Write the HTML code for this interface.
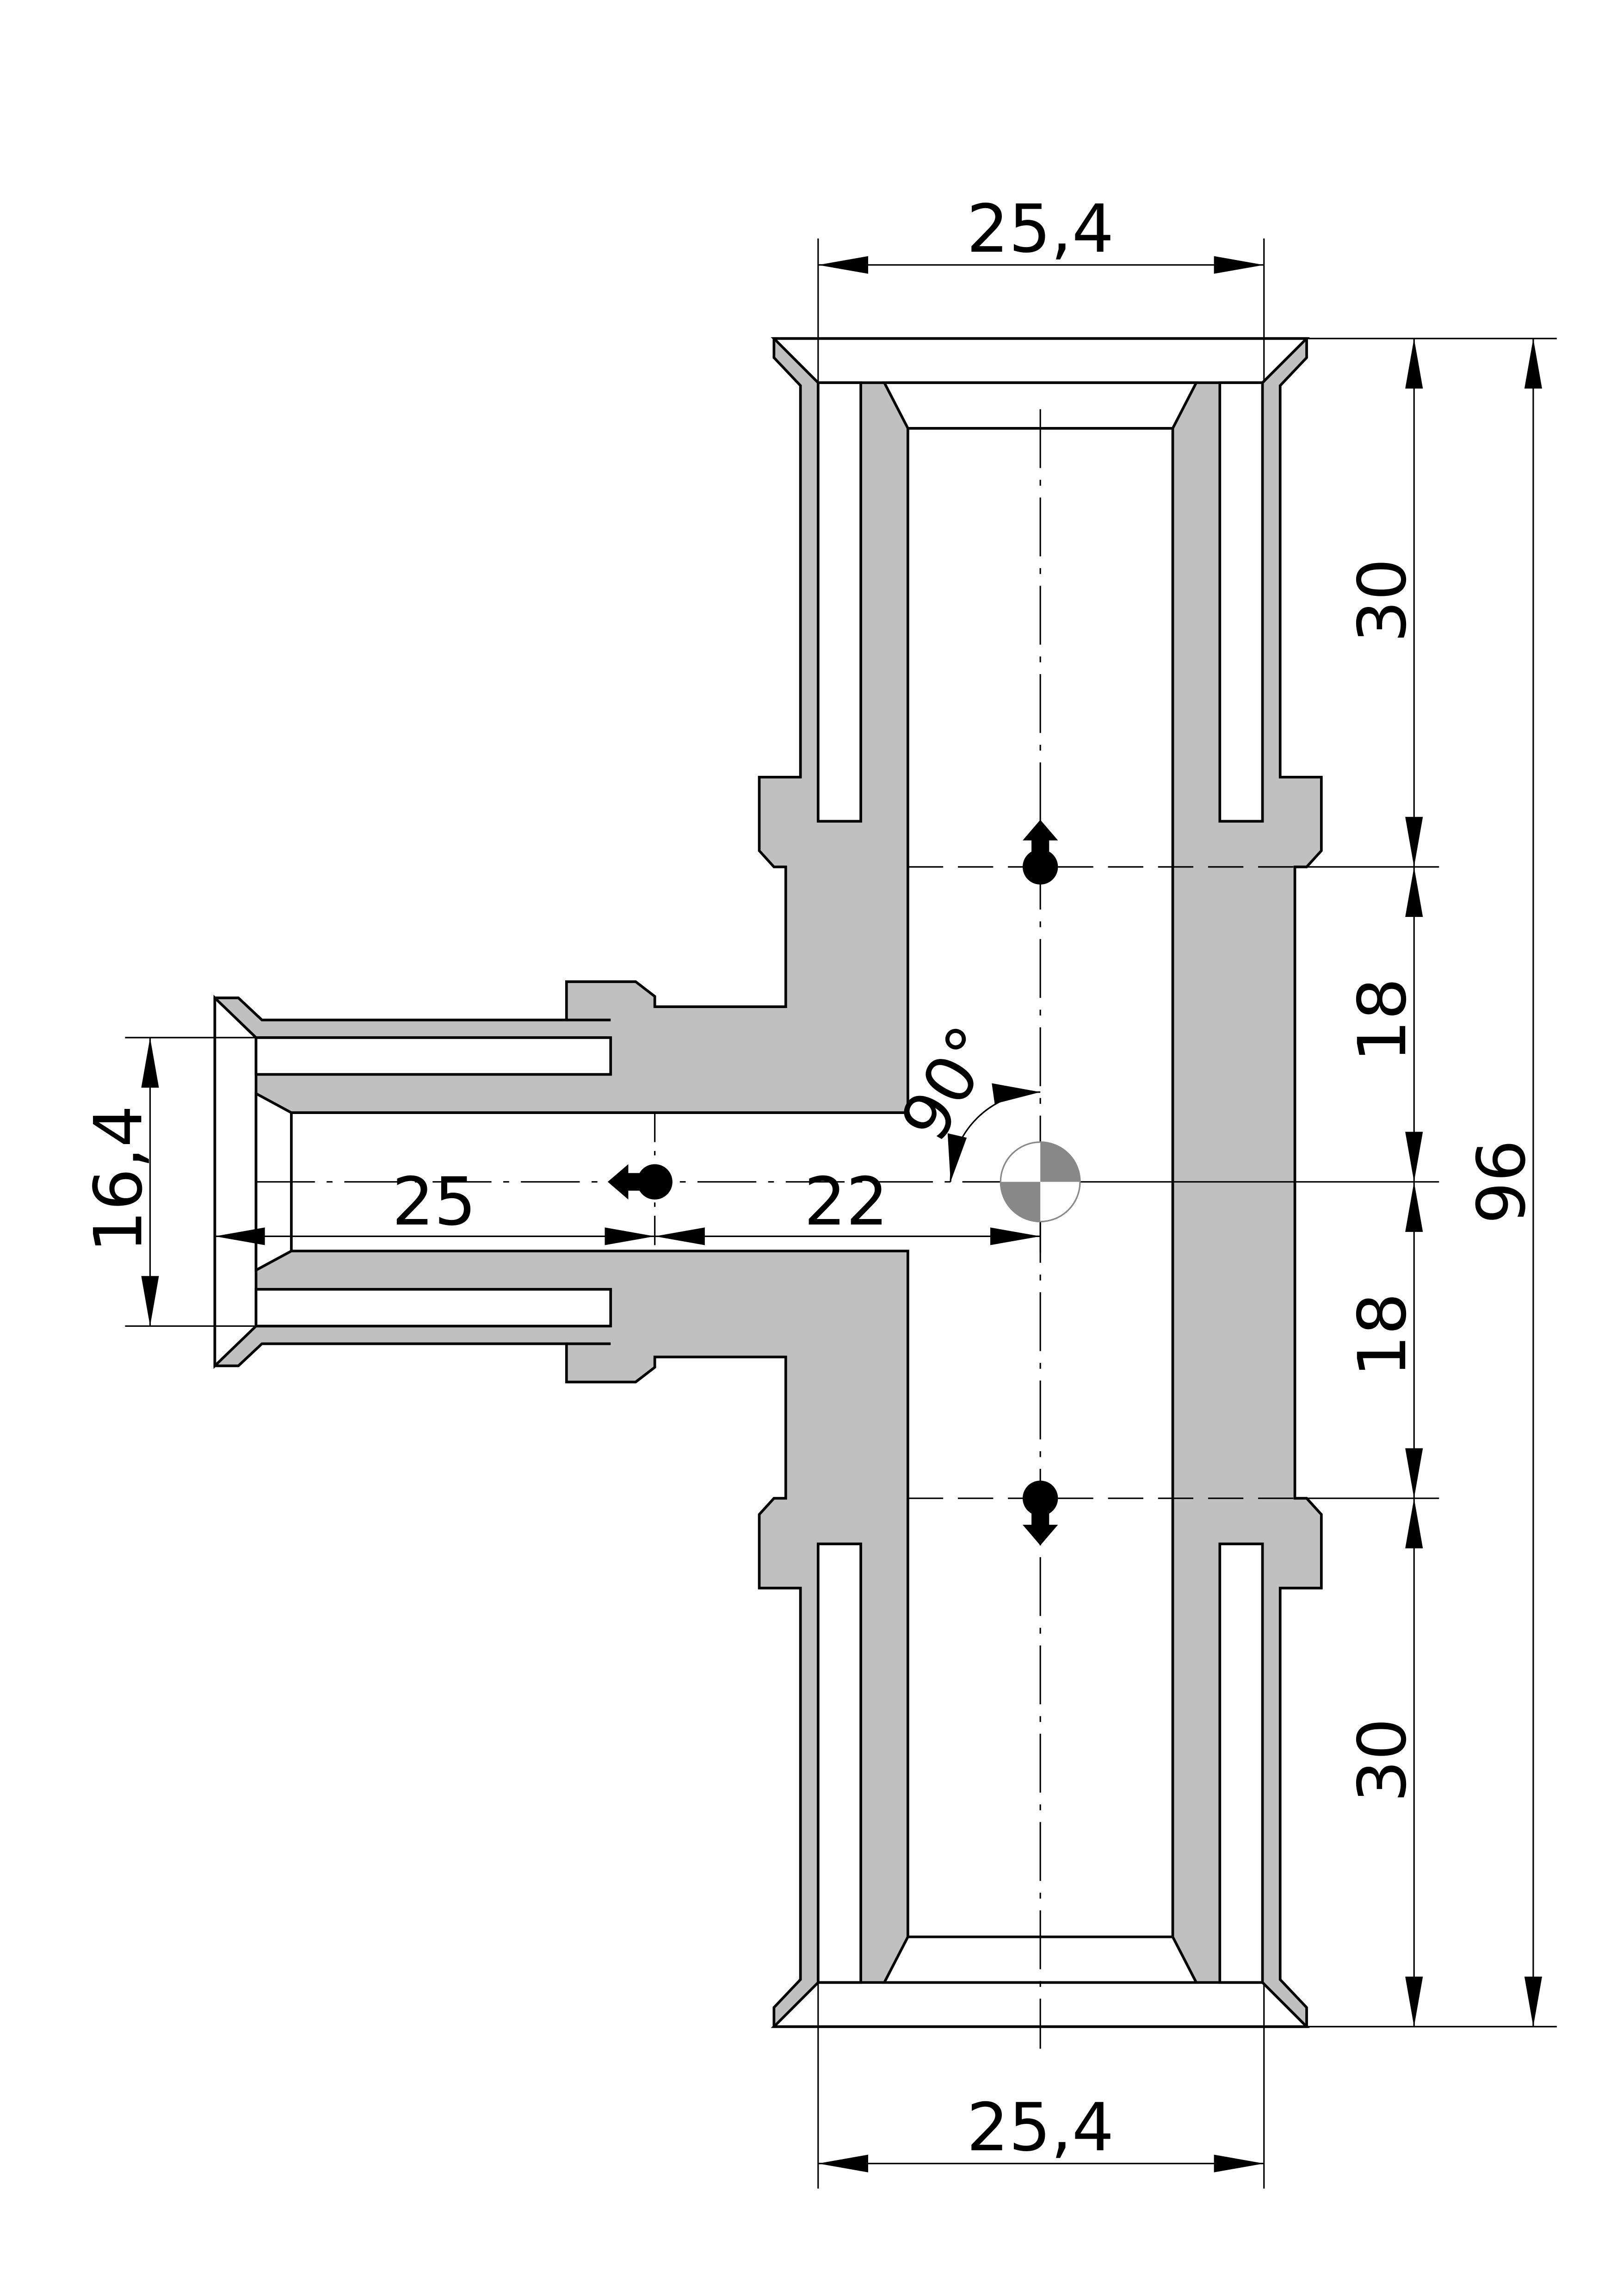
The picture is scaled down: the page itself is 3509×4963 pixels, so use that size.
<!DOCTYPE html>
<html><head><meta charset="utf-8"><style>html,body{margin:0;padding:0;background:#fff}svg{display:block}</style></head>
<body>
<svg width="3509" height="4963" viewBox="0 0 1103 1560" xmlns="http://www.w3.org/2000/svg">
<rect width="1103" height="1560" fill="#fff"/>
<g stroke="#000" stroke-width="1.8" stroke-linejoin="miter">
<polygon fill="#c0c0c0" points="526,230 888,230 888,243 870,262 870,528 898,528 898,578 888,589 880,589 880,1018 888,1018 898,1029 898,1079 870,1079 870,1345 888,1364 888,1377 526,1377 526,1364 544,1345 544,1079 516,1079 516,1029 526,1018 534,1018 534,922 445,922 445,929 432,939 385,939 385,913 178,913 162,928 146,928 146,678 162,678 178,693 385,693 385,667 432,667 445,677 445,684 534,684 534,589 526,589 516,578 516,528 544,528 544,262 526,243"/>
<polygon fill="#fff" points="526,230 888,230 858,260 556,260"/>
<polygon fill="#fff" points="526,1377 888,1377 858,1347 556,1347"/>
<polygon fill="#fff" points="146,678 174,705 174,901 146,928"/>
<polygon fill="#fff" points="601,260 813,260 797,291 797,1316 813,1347 601,1347 617,1316 617,850 198,850 174,863 174,743 198,756 617,756 617,291"/>
<rect fill="#fff" x="556" y="260" width="29" height="298"/>
<rect fill="#fff" x="829" y="260" width="29" height="298"/>
<rect fill="#fff" x="556" y="1049" width="29" height="298"/>
<rect fill="#fff" x="829" y="1049" width="29" height="298"/>
<rect fill="#fff" x="174" y="705" width="241" height="25"/>
<rect fill="#fff" x="174" y="876" width="241" height="25"/>
<line x1="385" y1="693" x2="415" y2="693"/><line x1="385" y1="913" x2="415" y2="913"/>
<line x1="198" y1="756" x2="198" y2="850"/>
<line x1="617" y1="291" x2="797" y2="291"/><line x1="617" y1="1316" x2="797" y2="1316"/>
</g>
<g stroke="#000" stroke-width="1" fill="none">
<line x1="707" y1="278" x2="707" y2="1392" stroke-dasharray="40,8,4,8"/>
<line x1="174" y1="803" x2="707" y2="803" stroke-dasharray="40,8,4,8"/>
<line x1="707" y1="803" x2="978" y2="803"/>
<line x1="617" y1="589" x2="880" y2="589" stroke-dasharray="24,10"/>
<line x1="880" y1="589" x2="978" y2="589"/>
<line x1="617" y1="1018" x2="880" y2="1018" stroke-dasharray="24,10"/>
<line x1="880" y1="1018" x2="978" y2="1018"/>
<line x1="445" y1="756" x2="445" y2="851" stroke-dasharray="20,6,3,6"/>
<line x1="556" y1="162" x2="556" y2="260"/><line x1="859" y1="162" x2="859" y2="260"/>
<line x1="556" y1="180" x2="859" y2="180"/>
<line x1="556" y1="1347" x2="556" y2="1487"/><line x1="859" y1="1347" x2="859" y2="1487"/>
<line x1="556" y1="1470" x2="859" y2="1470"/>
<line x1="888" y1="230" x2="1058" y2="230"/><line x1="888" y1="1377" x2="1058" y2="1377"/>
<line x1="961" y1="230" x2="961" y2="1377"/><line x1="1042" y1="230" x2="1042" y2="1377"/>
<line x1="85" y1="705" x2="174" y2="705"/><line x1="85" y1="901" x2="174" y2="901"/>
<line x1="102" y1="705" x2="102" y2="901"/>
<line x1="146" y1="840" x2="707" y2="840"/>
<line x1="707" y1="803" x2="707" y2="851"/>
<path d="M707,742 A61,61 0 0 0 646,803"/>
</g>
<g fill="#000">
<polygon points="556,180 590,174 590,186"/><polygon points="859,180 825,174 825,186"/>
<polygon points="556,1470 590,1464 590,1476"/><polygon points="859,1470 825,1464 825,1476"/>
<polygon points="961,230 955,264 967,264"/>
<polygon points="961,589 955,555 967,555"/><polygon points="961,589 955,623 967,623"/>
<polygon points="961,803 955,769 967,769"/><polygon points="961,803 955,837 967,837"/>
<polygon points="961,1018 955,984 967,984"/><polygon points="961,1018 955,1052 967,1052"/>
<polygon points="961,1377 955,1343 967,1343"/>
<polygon points="1042,230 1036,264 1048,264"/><polygon points="1042,1377 1036,1343 1048,1343"/>
<polygon points="102,705 96,739 108,739"/><polygon points="102,901 96,867 108,867"/>
<polygon points="146,840 180,834 180,846"/>
<polygon points="445,840 411,834 411,846"/><polygon points="445,840 479,834 479,846"/>
<polygon points="707,840 673,834 673,846"/>
<polygon points="707,742 674,736 676,750"/>
<polygon points="646,803 644,770 657,773"/>
<circle cx="707" cy="589" r="12"/><polygon points="707,557 695,571 701,571 701,582 713,582 713,571 719,571"/>
<circle cx="707" cy="1018" r="12"/><polygon points="707,1050 695,1036 701,1036 701,1025 713,1025 713,1036 719,1036"/>
<circle cx="445" cy="803" r="12"/><polygon points="413,803 427,791 427,797 438,797 438,809 427,809 427,815"/>
</g>
<g>
<circle cx="707" cy="803" r="27" fill="#fff" stroke="#888" stroke-width="1"/>
<path d="M707,803 L707,776 A27,27 0 0 1 734,803 Z" fill="#888"/>
<path d="M707,803 L707,830 A27,27 0 0 1 680,803 Z" fill="#888"/>
</g>
<g font-family="DejaVu Sans, Liberation Sans, sans-serif" font-size="45" fill="#000" text-anchor="middle">
<text x="707" y="171">25,4</text>
<text x="707" y="1461">25,4</text>
<text x="295" y="832">25</text>
<text x="575" y="832">22</text>
<text transform="translate(955,408) rotate(-90)">30</text>
<text transform="translate(955,693) rotate(-90)">18</text>
<text transform="translate(955,907) rotate(-90)">18</text>
<text transform="translate(955,1196) rotate(-90)">30</text>
<text transform="translate(1036,803) rotate(-90)">96</text>
<text transform="translate(96,801) rotate(-90)">16,4</text>
<text transform="translate(658,744) rotate(-60)">90°</text>
</g>
</svg>
</body></html>
